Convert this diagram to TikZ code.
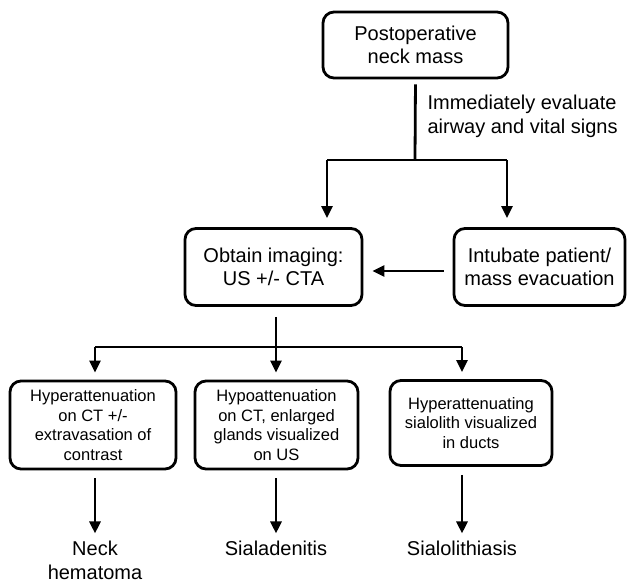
\documentclass[tikz,border=0pt]{standalone}
\usepackage{fontspec}
\setmainfont{Liberation Sans}
\usetikzlibrary{arrows.meta}

\begin{document}
\begin{tikzpicture}[x=1pt, y=-1pt,
    box/.style={draw, line width=2.8pt, rounded corners=11pt, align=center, inner sep=2pt,
      font=\fontsize{20}{23.5}\selectfont},
    smallbox/.style={box, font=\fontsize{16.5}{19.5}\selectfont},
    result/.style={align=center, inner sep=2pt, font=\fontsize{20}{24}\selectfont},
    conn/.style={line width=2.8pt},
    arr/.style={conn, -{Triangle[length=12pt,width=11pt]}}]
\useasboundingbox (0,0) rectangle (627,584);
\node[box, minimum width=185pt, minimum height=66pt] (mass) at (415.5,45) {Postoperative\\neck mass};
\node[anchor=west, align=left, font=\fontsize{20}{23.5}\selectfont] (advice) at (424,116.5) {Immediately evaluate\\airway and vital signs};
\node[box, minimum width=177pt, minimum height=77pt] (imaging) at (273.5,267) {Obtain imaging:\\US +/- CTA};
\node[box, minimum width=171pt, minimum height=77pt] (intubate) at (539.5,267) {Intubate patient/\\mass evacuation};
\node[smallbox, minimum width=166pt, minimum height=88pt] (hyper) at (93,425) {Hyperattenuation\\on CT +/-\\extravasation of\\contrast};
\node[smallbox, minimum width=163pt, minimum height=88pt] (hypo) at (276.5,425) {Hypoattenuation\\on CT, enlarged\\glands visualized\\on US};
\node[smallbox, minimum width=162pt, minimum height=85pt] (stone) at (471,423) {Hyperattenuating\\sialolith visualized\\in ducts};
\node[result] (hematoma) at (95,560) {Neck\\hematoma};
\node[result] (adenitis) at (276,548) {Sialadenitis};
\node[result] (lithiasis) at (462,548) {Sialolithiasis};
\coordinate (fork) at (415,160);
\coordinate (tl) at (327,160);
\coordinate (tr) at (507,160);
\coordinate (split) at (276,347);
\coordinate (bl) at (95,347);
\coordinate (br) at (462,347);
\draw[conn, shorten <=5pt] (mass.south) -- (fork);
\draw[conn] (tl) -- (tr);
\draw[arr, shorten >=9pt] (tl) -- (tl |- imaging.north);
\draw[arr, shorten >=9pt] (tr) -- (tr |- intubate.north);
\draw[arr, shorten <=9pt, shorten >=9pt] ([yshift=-4pt]intubate.west) -- ([yshift=-4pt]imaging.east);
\draw[conn, shorten <=10pt] (imaging.south -| split) -- (split);
\draw[conn] (bl) -- (br);
\draw[arr, shorten >=7pt] (bl) -- (bl |- hyper.north);
\draw[arr, shorten >=7pt] (split) -- (split |- hypo.north);
\draw[arr, shorten >=7pt] (br) -- (br |- stone.north);
\draw[arr, shorten <=8pt, shorten >=5pt] (hyper.south -| hematoma.north) -- (hematoma.north);
\draw[arr, shorten <=8pt, shorten >=5pt] (hypo.south -| adenitis.north) -- (adenitis.north);
\draw[arr, shorten <=8pt, shorten >=5pt] (stone.south -| lithiasis.north) -- (lithiasis.north);
\end{tikzpicture}
\end{document}
